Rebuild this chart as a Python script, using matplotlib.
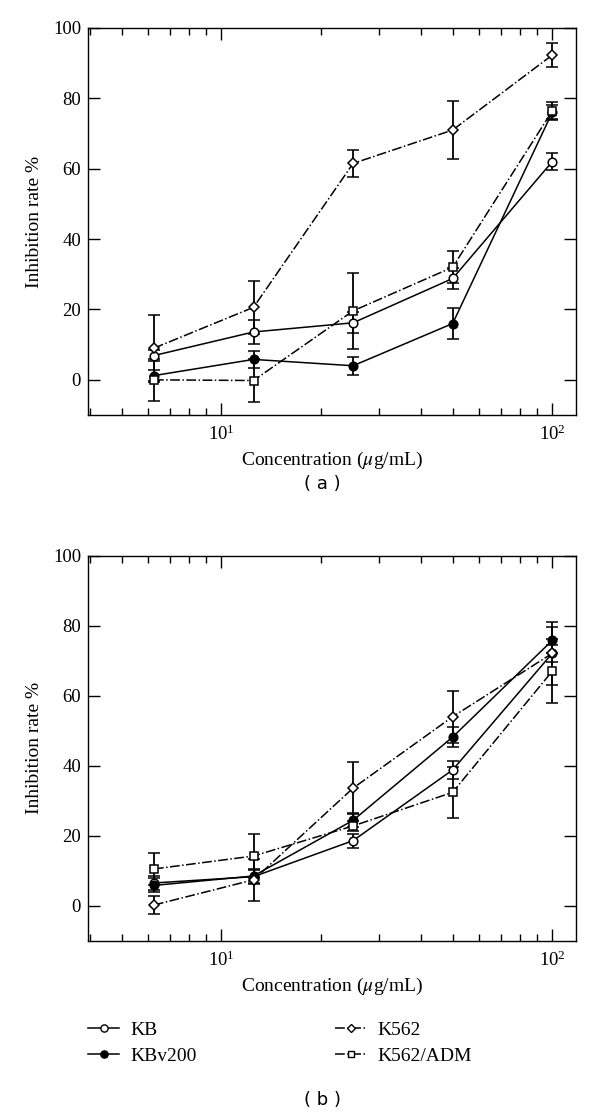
import matplotlib
matplotlib.use("Agg")
import matplotlib.pyplot as plt
from matplotlib.lines import Line2D
import numpy as np

plt.rcParams['font.family'] = ['Liberation Serif', 'DejaVu Serif']
plt.rcParams['mathtext.fontset'] = 'stix'

# concentraciones (ug/mL)
conc = [6.25, 12.5, 25, 50, 100]

# panel (a)
kb_a = [6.9, 13.6, 16.2, 28.8, 62.0]
kb_a_err = [1.5, 3.3, 3.0, 3.0, 2.4]
kbv_a = [1.2, 5.8, 4.0, 16.0, 76.0]
kbv_a_err = [1.5, 2.3, 2.6, 4.5, 2.0]
k562_a = [9.0, 20.6, 61.5, 71.0, 92.3]
k562_a_err = [9.5, 7.5, 3.8, 8.2, 3.5]
adm_a = [0.0, -0.2, 19.6, 32.0, 76.4]
adm_a_err = [6.0, 6.0, 10.8, 4.6, 2.5]

# panel (b)
kb_b = [6.5, 8.3, 18.6, 38.8, 72.1]
kb_b_err = [2.0, 2.0, 2.0, 2.5, 2.5]
kbv_b = [5.8, 8.5, 24.4, 48.2, 75.8]
kbv_b_err = [2.0, 2.0, 2.0, 2.8, 3.7]
k562_b = [0.2, 7.4, 33.6, 54.0, 72.1]
k562_b_err = [2.6, 6.0, 7.4, 7.4, 9.0]
adm_b = [10.5, 14.2, 22.8, 32.4, 67.0]
adm_b_err = [4.7, 6.4, 1.5, 7.3, 9.2]

nombres = ['KB', 'KBv200', 'K562', 'K562/ADM']
estilos = [
    dict(marker='o', mfc='white', ls='-', ms=6.2),
    dict(marker='o', mfc='black', ls='-', ms=6.2),
    dict(marker='D', mfc='white', ls='-.', ms=5.0),
    dict(marker='s', mfc='white', ls='-.', ms=6.0),
]


def dibujar(ax, series, errores):
    for y, e, st in zip(series, errores, estilos):
        ax.errorbar(conc, y, yerr=e, color='black', mec='black', lw=1.1,
                    elinewidth=1.3, capsize=4, capthick=1.3,
                    marker=st['marker'], mfc=st['mfc'], ms=st['ms'],
                    ls=st['ls'], mew=1.1)
    ax.set_xscale('log')
    ax.set_xlim(3.95, 118)
    ax.set_ylim(-10, 100)
    ax.set_yticks([0, 20, 40, 60, 80, 100])
    ax.tick_params(which='both', direction='in', top=True, right=True,
                   labelsize=13.5)
    ax.tick_params(which='major', length=8.5, width=1)
    ax.tick_params(which='minor', length=5, width=1)
    ax.tick_params(axis='x', pad=7)
    ax.tick_params(axis='y', pad=5)
    for s in ax.spines.values():
        s.set_linewidth(1.0)
    ax.set_xlabel('Concentration ($\\mu$g/mL)', fontsize=14, labelpad=4)
    ax.set_ylabel('Inhibition rate %', fontsize=14, labelpad=7)


fig = plt.figure(figsize=(6, 11.15), dpi=100)
ax1 = fig.add_axes([0.1467, 0.6278, 0.8133, 0.3471])
ax2 = fig.add_axes([0.1467, 0.1563, 0.8133, 0.3453])

dibujar(ax1, [kb_a, kbv_a, k562_a, adm_a], [kb_a_err, kbv_a_err, k562_a_err, adm_a_err])
dibujar(ax2, [kb_b, kbv_b, k562_b, adm_b], [kb_b_err, kbv_b_err, k562_b_err, adm_b_err])

fig.text(0.537, 1 - 484 / 1115, '( a )', ha='center', va='center',
         fontsize=13, family='DejaVu Sans')
fig.text(0.537, 1 - 1100 / 1115, '( b )', ha='center', va='center',
         fontsize=13, family='DejaVu Sans')

handles = [Line2D([], [], color='black', lw=1.1, marker=st['marker'],
                  mfc=st['mfc'], mec='black', ms=st['ms'] - 1.0, ls=st['ls'])
           for st in estilos]
opts = dict(loc='upper left', frameon=False, fontsize=14, handlelength=1.6,
            handletextpad=0.6, labelspacing=0.45, borderpad=0,
            borderaxespad=0)
leg1 = fig.legend(handles[:2], nombres[:2],
                  bbox_to_anchor=(88 / 600, 1 - 1021 / 1115), **opts)
leg2 = fig.legend(handles[2:], nombres[2:],
                  bbox_to_anchor=(335 / 600, 1 - 1021 / 1115), **opts)

fig.savefig('out.png', dpi=100)
